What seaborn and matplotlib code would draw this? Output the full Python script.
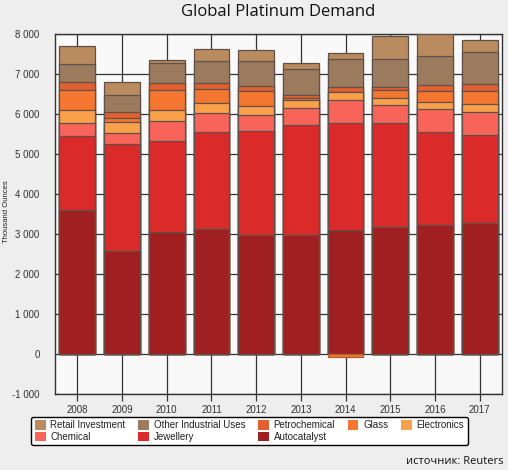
import numpy as np
import pandas as pd
import matplotlib
matplotlib.use("Agg")
import matplotlib.pyplot as plt
import seaborn as sns
from matplotlib.patches import Patch
from matplotlib.ticker import FuncFormatter

years = ["2008", "2009", "2010", "2011", "2012", "2013", "2014", "2015", "2016", "2017"]

autocatalyst = [3600, 2575, 3050, 3110, 2960, 2965, 3100, 3165, 3225, 3275]
jewellery = [1842, 2667, 2267, 2432, 2607, 2760, 2667, 2602, 2325, 2192]
chemical = [333, 275, 500, 475, 400, 417, 575, 450, 567, 575]
electronics = [317, 275, 275, 250, 225, 192, 200, 175, 183, 200]
glass = [491, 108, 508, 350, 375, 58, -65, 208, 275, 325]
petrochemical = [209, 142, 167, 158, 125, 83, 133, 67, 142, 175]
other_industrial = [450, 425, 500, 542, 625, 650, 700, 700, 725, 800]
retail_investment = [450, 325, 67, 300, 275, 142, 142, 575, 550, 300]

series_names = ["Autocatalyst", "Jewellery", "Chemical", "Electronics", "Glass",
                "Petrochemical", "Other Industrial Uses", "Retail Investment"]
series_values = [autocatalyst, jewellery, chemical, electronics, glass,
                 petrochemical, other_industrial, retail_investment]
colors = {
    "Retail Investment": "#BA8B5F",
    "Other Industrial Uses": "#9C7A5E",
    "Petrochemical": "#E0612F",
    "Glass": "#F57631",
    "Electronics": "#FBA04A",
    "Chemical": "#F8645A",
    "Jewellery": "#DA2B2A",
    "Autocatalyst": "#A01F21",
}

# cumulative positive stacks
vals = np.array(series_values, dtype=float)
pos = np.clip(vals, 0, None)
cum = np.cumsum(pos, axis=0)

fig = plt.figure(figsize=(5.08, 4.70), dpi=100, facecolor="#EEEEEE")
ax = fig.add_axes([55 / 508, (470 - 394) / 470, 447 / 508, (394 - 33.5) / 470])
ax.set_facecolor("#F9F9F9")

edge = "#5E504A"
for i in range(len(series_names) - 1, -1, -1):
    df = pd.DataFrame({"year": years, "value": cum[i]})
    sns.barplot(data=df, x="year", y="value", order=years, color=colors[series_names[i]],
                saturation=1, width=0.8, edgecolor=edge, linewidth=0.9, ax=ax, zorder=3)

# negative values
for i, name in enumerate(series_names):
    neg = [(y, v) for y, v in zip(years, series_values[i]) if v < 0]
    if neg:
        df = pd.DataFrame({"year": [n[0] for n in neg], "value": [n[1] for n in neg]})
        sns.barplot(data=df, x="year", y="value", order=years, color=colors[name],
                    saturation=1, width=0.8, edgecolor="#B0602C", linewidth=0.9, ax=ax, zorder=3)

ax.set_xlim(-0.5, len(years) - 0.5)
ax.set_ylim(-1000, 8000)
ax.set_yticks(range(-1000, 8001, 1000))
ax.yaxis.set_major_formatter(FuncFormatter(lambda v, p: f"{int(v):,}".replace(",", " ")))
ax.grid(True, color="#333333", linewidth=0.9, zorder=0)
ax.set_axisbelow(True)
for s in ax.spines.values():
    s.set_color("#333333")
    s.set_linewidth(1.0)

ax.tick_params(axis="x", length=5, width=0.9, color="#333333", pad=3, labelsize=7, labelcolor="#333333")
ax.tick_params(axis="y", length=0, pad=11, labelsize=7, labelcolor="#333333")
for lab in ax.get_xticklabels() + ax.get_yticklabels():
    lab.set_family("Liberation Sans")

ax.set_xlabel("")
ax.set_ylabel("")
fig.text(7 / 508, 1 - 212 / 470, "Thousand Ounces", rotation=90, ha="center", va="center",
         fontsize=5.5, family="Liberation Sans", color="#222222")

fig.text(278 / 508, 1 - 12 / 470, "Global Platinum Demand", ha="center", va="center",
         fontsize=12, family="Open Sans", color="#111111")

fig.text(503 / 508, 1 - 461 / 470, "источник: Reuters", ha="right", va="center",
         fontsize=8, family="Open Sans", color="#111111")

legend_order = ["Retail Investment", "Chemical", "Other Industrial Uses", "Jewellery",
                "Petrochemical", "Autocatalyst", "Glass", "Electronics"]
handles = [Patch(facecolor=colors[n], edgecolor="none", label=n) for n in legend_order]
leg = fig.legend(handles=handles, ncol=5, loc="center", bbox_to_anchor=(249.5 / 508, 1 - 431 / 470),
                 frameon=True, fancybox=True, edgecolor="#000000", facecolor="white", framealpha=1,
                 prop={"family": "Liberation Sans", "size": 7}, handlelength=1.1, handleheight=1.1,
                 handletextpad=0.5, columnspacing=1.3, labelspacing=0.15, borderpad=0.35)
leg.get_frame().set_linewidth(1.0)
for t in leg.get_texts():
    t.set_color("#222222")

fig.savefig("out.png", dpi=100, facecolor=fig.get_facecolor())
